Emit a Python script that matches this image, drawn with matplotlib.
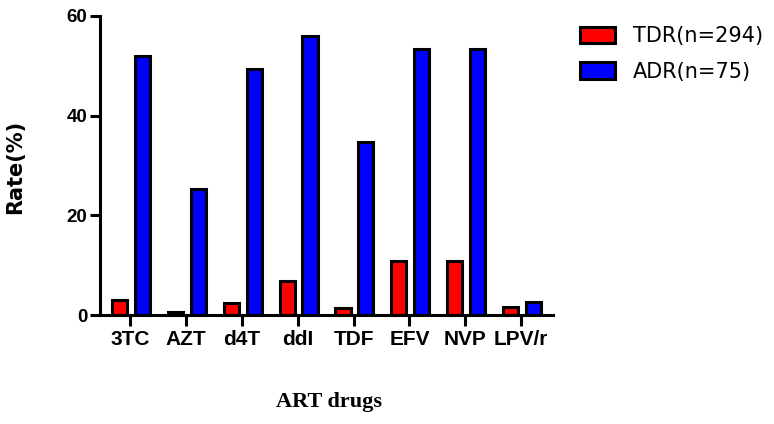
import numpy as np
import matplotlib
matplotlib.use("Agg")
import matplotlib.pyplot as plt

drugs = ["3TC", "AZT", "d4T", "ddI", "TDF", "EFV", "NVP", "LPV/r"]
tdr = [3.1, 0.7, 2.4, 6.8, 1.4, 10.9, 10.9, 1.7]
adr = [52.0, 25.3, 49.3, 56.0, 34.7, 53.3, 53.3, 2.7]
series_labels = ["TDR(n=294)", "ADR(n=75)"]

SANS = "Liberation Sans"
WIDE = "DejaVu Sans"      # the legend / y-label text looks stretched, DejaVu is wider
SERIF = "Liberation Serif"

fig = plt.figure(figsize=(7.74, 4.24), dpi=100)
ax = fig.add_axes([100 / 774, 1 - 315 / 424, 453 / 774, 299 / 424])

x = np.arange(len(drugs))
width = 0.27
ax.bar(x - 0.19, tdr, width, color="#ff0000", edgecolor="black",
       linewidth=2.2, label=series_labels[0], zorder=3)
ax.bar(x + 0.22, adr, width, color="#0000ff", edgecolor="black",
       linewidth=2.2, label=series_labels[1], zorder=3)

ax.set_xlim(-0.54, 7.57)
ax.set_ylim(0, 60)
ax.set_yticks([0, 20, 40, 60])
ax.set_xticks(x)
ax.set_xticklabels(drugs, fontfamily=SANS, fontweight="bold", fontsize=15)
for lab in ax.get_yticklabels():
    lab.set_fontfamily(SANS)
    lab.set_fontweight("bold")
    lab.set_fontsize(13.5)

for side in ("top", "right"):
    ax.spines[side].set_visible(False)
for side in ("left", "bottom"):
    ax.spines[side].set_linewidth(2.2)
ax.tick_params(axis="y", direction="out", width=2.2, length=7, pad=2)
ax.tick_params(axis="x", direction="out", width=2.2, length=8, pad=3)

fig.text(15 / 774, 1 - 167 / 424, "Rate(%)", fontfamily=WIDE,
         fontweight="bold", fontsize=15, rotation=90,
         ha="center", va="center")
fig.text(329 / 774, 1 - 407 / 424, "ART drugs", fontfamily=SERIF,
         fontweight="bold", fontsize=16, ha="center", va="baseline")

fig.legend(loc="upper left", bbox_to_anchor=(580 / 774, 1 - 26 / 424),
           frameon=False, borderpad=0, borderaxespad=0,
           handlelength=1.68, handleheight=0.82, handletextpad=0.87,
           labelspacing=0.75, prop={"family": WIDE, "size": 15})

fig.savefig("out.png", dpi=100)
